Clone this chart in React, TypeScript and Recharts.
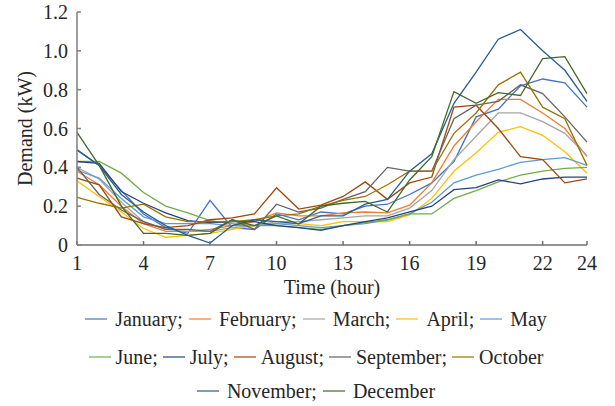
import React from 'react';
import { LineChart, Line, XAxis, YAxis } from 'recharts';

const hours = [1, 2, 3, 4, 5, 6, 7, 8, 9, 10, 11, 12, 13, 14, 15, 16, 17, 18, 19, 20, 21, 22, 23, 24];

const january = [0.49, 0.41, 0.28, 0.16, 0.09, 0.06, 0.23, 0.09, 0.08, 0.16, 0.13, 0.17, 0.16, 0.2, 0.21, 0.26, 0.32, 0.43, 0.66, 0.7, 0.82, 0.855, 0.835, 0.71];
const february = [0.38, 0.31, 0.2, 0.11, 0.07, 0.07, 0.08, 0.1, 0.12, 0.165, 0.15, 0.15, 0.165, 0.17, 0.165, 0.205, 0.32, 0.51, 0.635, 0.75, 0.75, 0.68, 0.6, 0.455];
const march = [0.4, 0.34, 0.22, 0.12, 0.08, 0.07, 0.07, 0.09, 0.1, 0.12, 0.12, 0.13, 0.14, 0.15, 0.15, 0.19, 0.28, 0.44, 0.56, 0.68, 0.68, 0.635, 0.575, 0.46];
const april = [0.33, 0.25, 0.17, 0.085, 0.04, 0.05, 0.06, 0.08, 0.1, 0.11, 0.11, 0.1, 0.12, 0.12, 0.12, 0.155, 0.24, 0.38, 0.475, 0.58, 0.61, 0.565, 0.48, 0.37];
const may = [0.385, 0.345, 0.24, 0.145, 0.11, 0.11, 0.11, 0.1, 0.1, 0.11, 0.1, 0.09, 0.1, 0.11, 0.13, 0.16, 0.22, 0.32, 0.36, 0.39, 0.425, 0.44, 0.45, 0.41];
const june = [0.43, 0.43, 0.37, 0.27, 0.2, 0.165, 0.125, 0.11, 0.1, 0.1, 0.09, 0.08, 0.1, 0.115, 0.13, 0.16, 0.16, 0.24, 0.28, 0.325, 0.36, 0.38, 0.395, 0.4];
const july = [0.43, 0.42, 0.275, 0.215, 0.165, 0.125, 0.115, 0.12, 0.12, 0.1, 0.09, 0.075, 0.1, 0.12, 0.14, 0.17, 0.2, 0.285, 0.295, 0.335, 0.315, 0.34, 0.35, 0.35];
const august = [0.345, 0.31, 0.145, 0.11, 0.09, 0.1, 0.13, 0.14, 0.16, 0.295, 0.185, 0.205, 0.25, 0.325, 0.235, 0.32, 0.35, 0.71, 0.72, 0.6, 0.455, 0.44, 0.32, 0.34];
const september = [0.4, 0.26, 0.18, 0.12, 0.08, 0.08, 0.07, 0.13, 0.08, 0.21, 0.17, 0.19, 0.235, 0.275, 0.4, 0.38, 0.38, 0.65, 0.72, 0.74, 0.825, 0.78, 0.66, 0.53];
const october = [0.245, 0.215, 0.19, 0.21, 0.145, 0.12, 0.12, 0.12, 0.13, 0.15, 0.16, 0.2, 0.23, 0.25, 0.31, 0.38, 0.38, 0.575, 0.68, 0.825, 0.89, 0.71, 0.65, 0.41];
const november = [0.49, 0.41, 0.26, 0.17, 0.1, 0.05, 0.01, 0.1, 0.13, 0.12, 0.11, 0.15, 0.15, 0.21, 0.235, 0.38, 0.47, 0.73, 0.89, 1.06, 1.11, 1.0, 0.9, 0.74];
const december = [0.58, 0.41, 0.2, 0.06, 0.06, 0.05, 0.06, 0.13, 0.1, 0.15, 0.108, 0.2, 0.215, 0.225, 0.17, 0.335, 0.455, 0.79, 0.73, 0.785, 0.77, 0.96, 0.97, 0.78];

const xTicks = [1, 4, 7, 10, 13, 16, 19, 22, 24];
const yTicks = [0, 0.2, 0.4, 0.6, 0.8, 1.0, 1.2];

const series = [
  { name: 'January', values: january, color: '#4472C4' },
  { name: 'February', values: february, color: '#ED7D31' },
  { name: 'March', values: march, color: '#A5A5A5' },
  { name: 'April', values: april, color: '#FFC000' },
  { name: 'May', values: may, color: '#5B9BD5' },
  { name: 'June', values: june, color: '#70AD47' },
  { name: 'July', values: july, color: '#264478' },
  { name: 'August', values: august, color: '#9E480E' },
  { name: 'September', values: september, color: '#636363' },
  { name: 'October', values: october, color: '#997300' },
  { name: 'November', values: november, color: '#255E91' },
  { name: 'December', values: december, color: '#43682B' },
];

const legendRows = [
  ['January', 'February', 'March', 'April', 'May'],
  ['June', 'July', 'August', 'September', 'October'],
  ['November', 'December'],
];

const data = hours.map((h, i) => {
  const row: Record<string, number> = { hour: h };
  series.forEach((s) => {
    row[s.name] = s.values[i];
  });
  return row;
});

const font = '"Liberation Serif", "Times New Roman", serif';
const tickStyle = { fontFamily: font, fontSize: 20, fill: '#262626' };

function LegendBlock() {
  return (
    <div
      style={{
        position: 'absolute',
        left: 0,
        top: 307,
        width: 615,
        paddingLeft: 17,
        boxSizing: 'border-box',
        fontFamily: font,
        fontSize: 20,
        color: '#262626',
      }}
    >
      {legendRows.map((row, ri) => {
        // second row is packed tighter in the original
        const iconGap = ri === 1 ? 5 : 8;
        const itemGap = ri === 1 ? 5 : 6;
        return (
          <div
            key={ri}
            style={{
              display: 'flex',
              justifyContent: 'center',
              alignItems: 'center',
              height: 24,
              marginBottom: ri === 0 ? 14 : 10,
              whiteSpace: 'nowrap',
            }}
          >
            {row.map((name, i) => {
              const s = series.find((x) => x.name === name)!;
              const last = i === row.length - 1;
              return (
                <span key={name} style={{ display: 'inline-flex', alignItems: 'center', marginRight: last ? 0 : itemGap }}>
                  <svg width={22} height={4} style={{ marginRight: iconGap }}>
                    <line x1={0} y1={2} x2={22} y2={2} stroke={s.color} strokeWidth={2} strokeOpacity={0.6} />
                  </svg>
                  <span>{last ? name : name + ';'}</span>
                </span>
              );
            })}
          </div>
        );
      })}
    </div>
  );
}

export default function App() {
  return (
    <div style={{ position: 'absolute', left: 0, top: 0, width: 615, height: 406, background: '#fff' }}>
      <LineChart width={615} height={406} data={data} margin={{ top: 12, right: 28, left: 0, bottom: 131 }}>
        <XAxis
          dataKey="hour"
          type="number"
          domain={[1, 24]}
          ticks={xTicks}
          interval={0}
          height={30}
          tickSize={-4}
          tickMargin={15}
          stroke="#6f6f6f"
          strokeWidth={1.5}
          tick={tickStyle}
          label={{ value: 'Time (hour)', position: 'bottom', offset: 5, style: { fontFamily: font, fontSize: 20, fill: '#262626' } }}
        />
        <YAxis
          type="number"
          domain={[0, 1.2]}
          ticks={yTicks}
          interval={0}
          width={77}
          tickSize={-4}
          tickMargin={13}
          stroke="#7f7f7f"
          strokeWidth={1.5}
          tick={tickStyle}
          tickFormatter={(v: number) => (v === 0 ? '0' : v.toFixed(1))}
          label={(props: any) => {
            const vb = props.viewBox || { x: 0, y: 12, height: 233 };
            const cx = vb.x + 25;
            const cy = vb.y + vb.height / 2;
            return (
              <text
                x={cx}
                y={cy}
                transform={`rotate(-90 ${cx} ${cy})`}
                textAnchor="middle"
                dominantBaseline="central"
                style={{ fontFamily: font, fontSize: 20, fill: '#262626' }}
              >
                Demand (kW)
              </text>
            );
          }}
        />
        {series.map((s) => (
          <Line
            key={s.name}
            type="linear"
            dataKey={s.name}
            stroke={s.color}
            strokeWidth={1.3}
            dot={false}
            isAnimationActive={false}
          />
        ))}
      </LineChart>
      <LegendBlock />
    </div>
  );
}
